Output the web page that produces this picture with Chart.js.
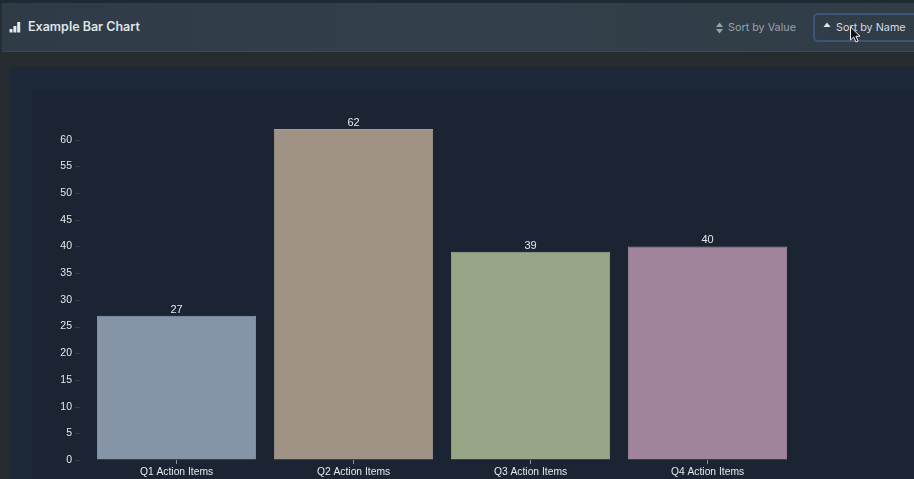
<!DOCTYPE html>
<html>
<head>
<meta charset="utf-8">
<style>
html,body{margin:0;padding:0;width:914px;height:479px;overflow:hidden;background:#262c2f;font-family:Inter,"Liberation Sans",sans-serif;}
#top{position:absolute;left:0;top:0;width:914px;height:3px;background:#1f2a35;}
#head{position:absolute;left:2px;top:3px;width:912px;height:48px;background:linear-gradient(90deg,#2f3b46,#333f4a 50%,#303c46);border-bottom:1px solid #3c4a4f;}
#title{position:absolute;left:28px;top:19px;font-size:12.5px;font-weight:600;color:#dfe5ea;line-height:16px;}
.btn{position:absolute;top:13px;height:29px;line-height:27px;font-size:10.8px;box-sizing:border-box;border-radius:5px;}
#b1{left:706px;width:100px;color:#98a3ad;padding-left:21px;border:1px solid #333f49;}
#b2{left:813px;width:110px;color:#d5dbe0;padding-left:21px;border:2px solid #3a5578;line-height:25px;}
svg.ic{position:absolute;}
#panel{position:absolute;left:9px;top:67px;width:905px;height:412px;background:#1d2938;border-radius:4px 0 0 0;}
#inner{position:absolute;left:32px;top:90px;width:882px;height:389px;background:#1a2432;}
canvas{display:block;}
</style>
</head>
<body>
<div id="top"></div>
<div id="head"></div>
<svg class="ic" style="left:9px;top:21px" width="12" height="12" viewBox="0 0 12 12"><rect x="0.5" y="8" width="3" height="3.5" rx=".6" fill="#e6eaee"/><rect x="4.4" y="5" width="3" height="6.5" rx=".6" fill="#e6eaee"/><rect x="8.2" y="1" width="3" height="10.5" rx=".6" fill="#e6eaee"/></svg>
<div id="title">Example Bar Chart</div>
<div class="btn" id="b1">Sort by Value</div>
<div class="btn" id="b2">Sort by Name</div>
<svg class="ic" style="left:715px;top:22px" width="9" height="12" viewBox="0 0 8 12"><path d="M4 .5 7.5 5H.5zM4 11.5.5 7h7z" fill="#98a3ad"/></svg>
<svg class="ic" style="left:823px;top:22px" width="8" height="6" viewBox="0 0 8 6"><path d="M4 .5 7.5 5H.5z" fill="#dfe5ea"/></svg>
<div id="panel"></div>
<div id="inner"><canvas id="c" width="882" height="389" style="width:882px;height:389px"></canvas></div>
<svg class="ic" style="left:849px;top:26px;z-index:5" width="13" height="18" viewBox="0 0 13 18"><path d="M1.5 1v13l3.2-3 2.2 5 2.2-1-2.2-4.8H11z" fill="#111" stroke="#eee" stroke-width="1"/></svg>
<script src="https://cdn.jsdelivr.net/npm/chart.js@4"></script>
<script>
const categories = ["Q1 Action Items","Q2 Action Items","Q3 Action Items","Q4 Action Items"];
const values = [27,62,39,40];
const fills = ["#8694a8","#a09386","#98a587","#a0849b"];
const borders = ["#8f9db0","#a99b8e","#a0ad90","#a88ca3"];
const yTicks = [0,5,10,15,20,25,30,35,40,45,50,55,60];
const textColor = "#e6e9ec";
const fontFamily = "'Liberation Sans', Arial, sans-serif";

const extras = {
  id:"extras",
  afterDatasetsDraw(chart){
    const ctx = chart.ctx;
    ctx.save();
    ctx.font = "11px " + fontFamily;
    ctx.fillStyle = textColor;
    ctx.textAlign = "center";
    ctx.textBaseline = "bottom";
    chart.getDatasetMeta(0).data.forEach((el,i)=>{
      ctx.fillText(String(values[i]), el.x, el.y - 0.5);
    });
    const y = chart.scales.y;
    ctx.strokeStyle = "#333e4c";
    ctx.lineWidth = 1;
    y.ticks.forEach((t)=>{
      const p = Math.round(y.getPixelForValue(t.value)) + 0.5;
      ctx.beginPath();
      ctx.moveTo(y.right-13,p);
      ctx.lineTo(y.right-8,p);
      ctx.stroke();
    });
    ctx.restore();
  }
};

new Chart(document.getElementById("c"),{
  type:"bar",
  data:{labels:categories,datasets:[{
    data:values,
    backgroundColor:fills,
    borderColor:borders,
    borderWidth:1,
    barPercentage:0.9,
    categoryPercentage:1
  }]},
  plugins:[extras],
  options:{
    responsive:false,
    animation:false,
    layout:{padding:{top:39,right:118,left:0,bottom:0}},
    plugins:{legend:{display:false},tooltip:{enabled:false},title:{display:false}},
    scales:{
      x:{
        grid:{display:true,offset:false,drawTicks:true,tickLength:4,tickColor:"#8a93a0",drawOnChartArea:false},
        border:{display:false},
        ticks:{color:textColor,font:{family:fontFamily,size:10.3},padding:2,maxRotation:0,autoSkip:false},
        afterFit(s){s.height=19;}
      },
      y:{
        min:0,max:62,
        grid:{display:true,drawOnChartArea:false,drawTicks:true,tickLength:13,tickColor:"rgba(0,0,0,0)"},
        border:{display:false},
        afterBuildTicks(s){s.ticks=yTicks.map(v=>({value:v}));},
        ticks:{color:textColor,font:{family:fontFamily,size:10.5},padding:3,autoSkip:false},
        afterFit(s){s.width=56;}
      }
    }
  }
});
</script>
</body>
</html>
